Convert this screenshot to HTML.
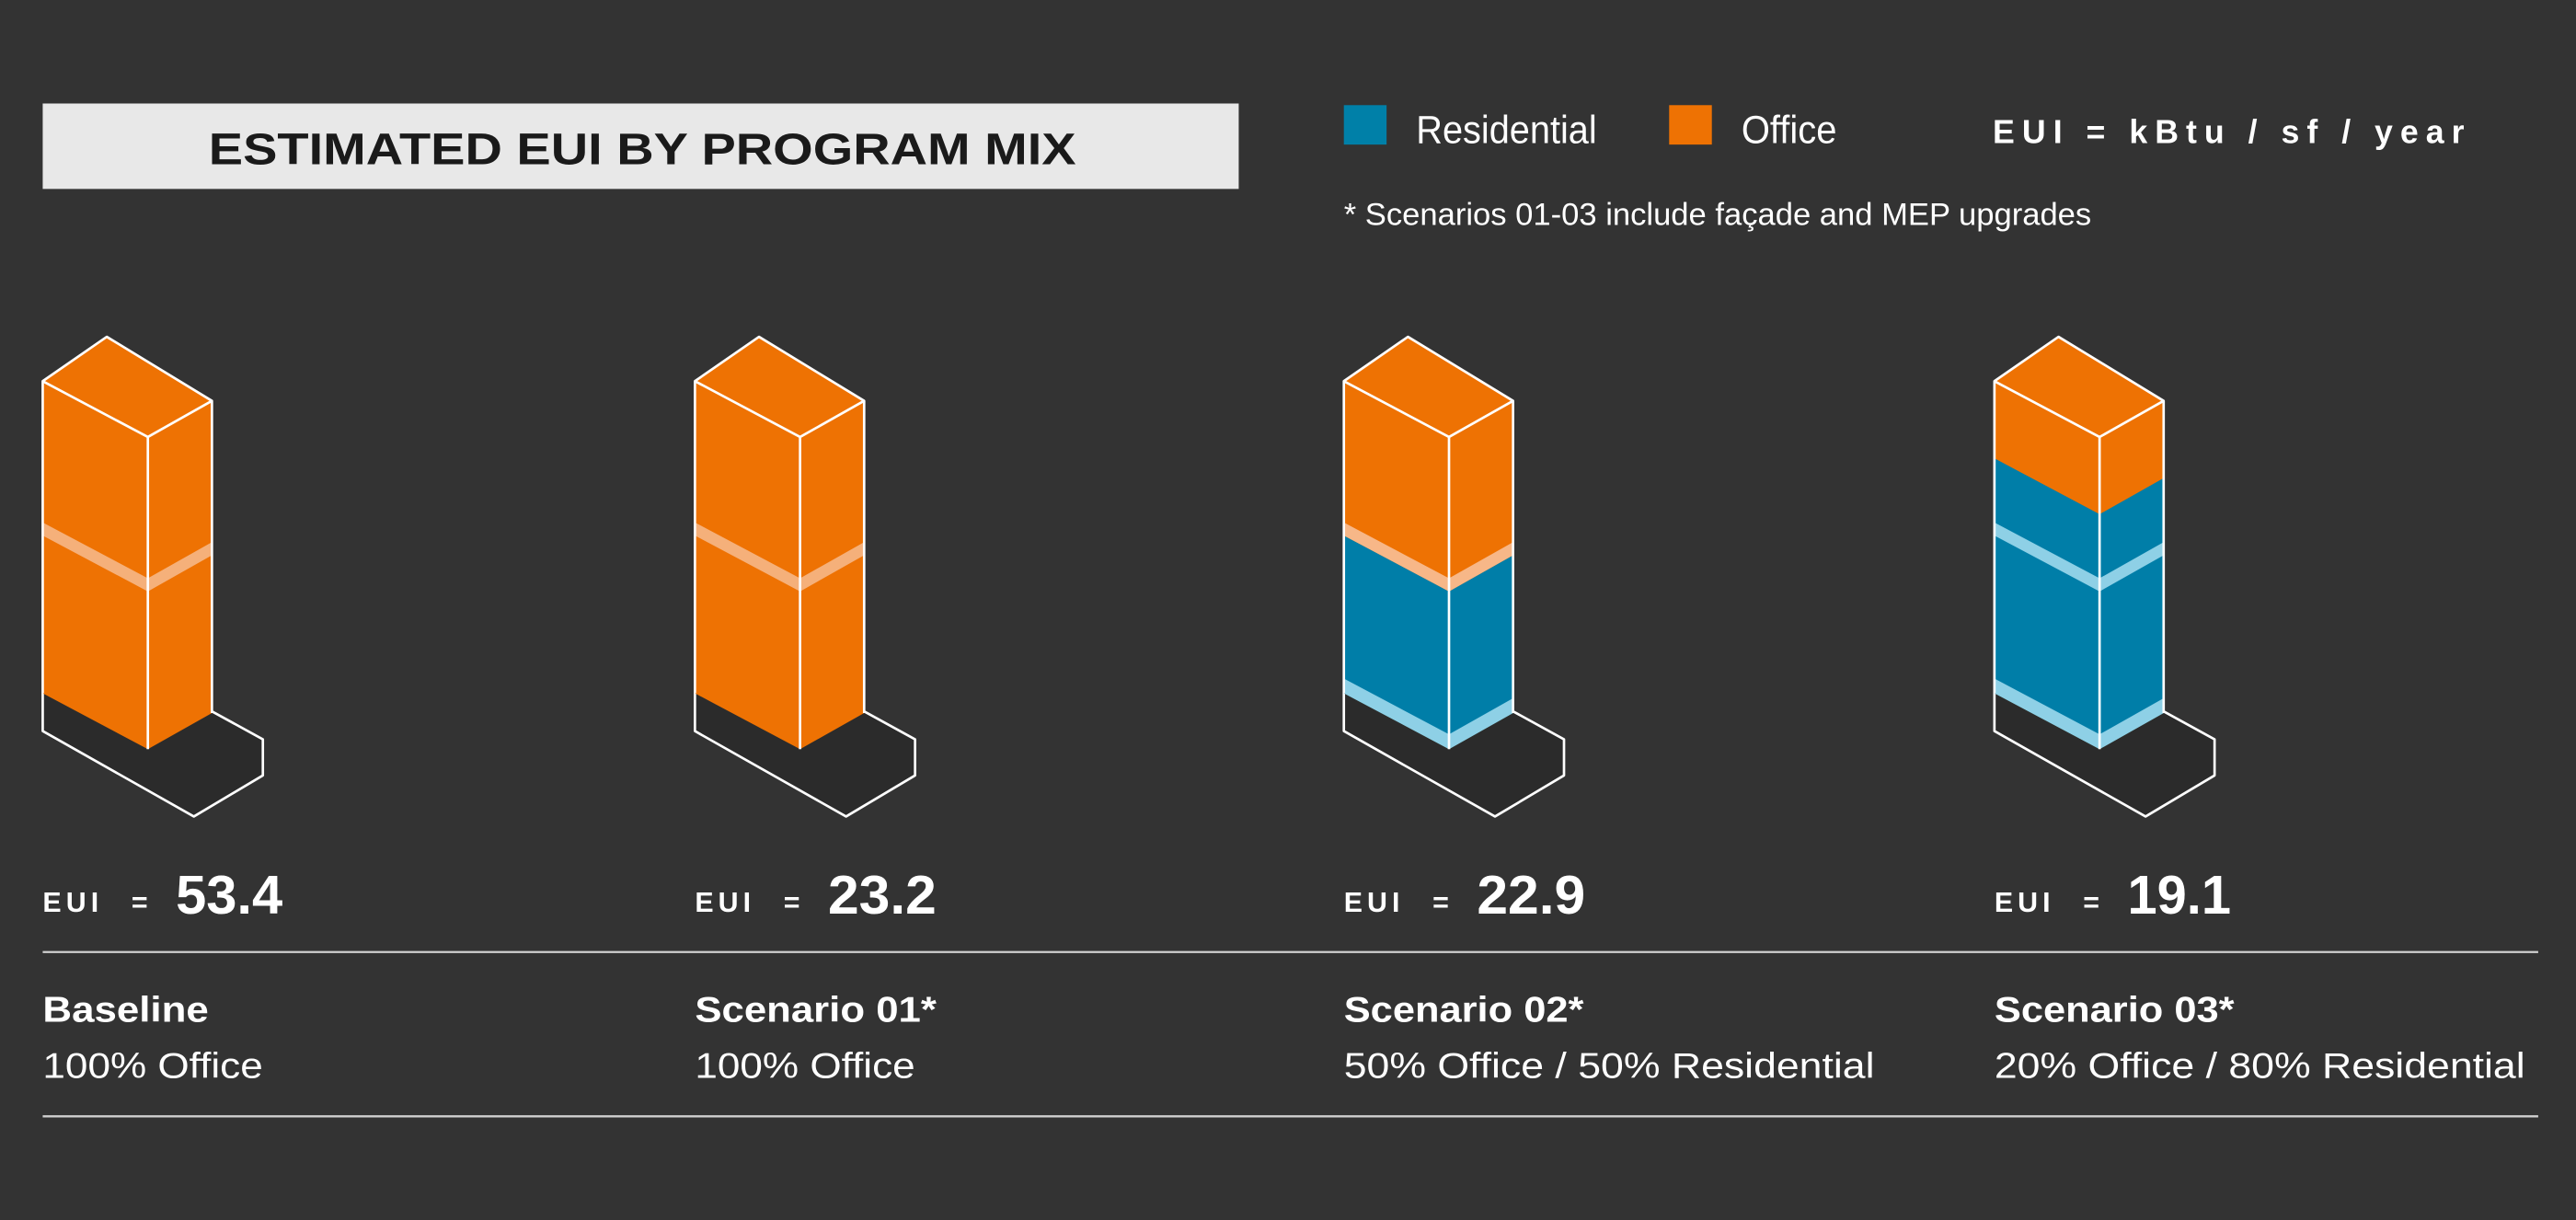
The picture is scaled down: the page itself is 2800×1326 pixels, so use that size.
<!DOCTYPE html>
<html><head><meta charset="utf-8"><style>
html,body{margin:0;padding:0;background:#333333;}
svg{display:block;}
text{font-family:"Liberation Sans",sans-serif;}
</style></head><body>
<svg width="2800" height="1326" viewBox="0 0 1568 742.6" preserveAspectRatio="none" xmlns="http://www.w3.org/2000/svg">
<rect x="0" y="0" width="1568" height="742.6" fill="#333333"/>
<!-- title -->
<rect x="26" y="63" width="728" height="52" fill="#e8e8e8"/>
<text x="127" y="100" font-size="27" font-weight="bold" fill="#1a1a1a" textLength="528" lengthAdjust="spacingAndGlyphs">ESTIMATED EUI BY PROGRAM MIX</text>
<!-- legend -->
<rect x="818" y="64" width="26" height="24" fill="#0080a8"/>
<text x="862" y="87" font-size="24" fill="#fff" textLength="110" lengthAdjust="spacingAndGlyphs">Residential</text>
<rect x="1016" y="64" width="26" height="24" fill="#ee7203"/>
<text x="1060" y="87" font-size="24" fill="#fff" textLength="58" lengthAdjust="spacingAndGlyphs">Office</text>
<text x="1213" y="87" font-size="20" font-weight="bold" fill="#fff" textLength="287" lengthAdjust="spacing">EUI = kBtu / sf / year</text>
<text x="818" y="137" font-size="19" fill="#fff" textLength="455" lengthAdjust="spacingAndGlyphs">* Scenarios 01-03 include façade and MEP upgrades</text>

<defs>
<g id="foot">
<polygon points="26,422 90,456 129,434 160,450 160,472 118,497 26,445" fill="#2b2b2b"/>
<polyline points="26,422 26,445 118,497 160,472 160,450 129,433" fill="none" stroke="#fff" stroke-width="1.5" stroke-linejoin="round"/>
</g>
<g id="edges">
<polygon points="65,205 129,244 129,434 90,456 26,422 26,232" fill="none" stroke="none"/>
<polyline points="26,422 26,232 65,205 129,244 129,434" fill="none" stroke="#fff" stroke-width="1.5" stroke-linejoin="round"/>
<polyline points="26,232 90,266 129,244" fill="none" stroke="#fff" stroke-width="1.5" stroke-linejoin="round"/>
<line x1="90" y1="266" x2="90" y2="456" stroke="#fff" stroke-width="1.5"/>
</g>
</defs>

<!-- Building 1 -->
<g transform="translate(0,0)">
<use href="#foot"/>
<polygon points="65,205 129,244 129,434 90,456 26,422 26,232" fill="#ee7203"/>
<polygon points="26,318 90,352 129,330 129,338 90,360 26,326" fill="#f5b07a"/>
<use href="#edges"/>
</g>
<!-- Building 2 -->
<g transform="translate(397,0)">
<use href="#foot"/>
<polygon points="65,205 129,244 129,434 90,456 26,422 26,232" fill="#ee7203"/>
<polygon points="26,318 90,352 129,330 129,338 90,360 26,326" fill="#f5b07a"/>
<use href="#edges"/>
</g>
<!-- Building 3 -->
<g transform="translate(792,0)">
<use href="#foot"/>
<polygon points="65,205 129,244 129,434 90,456 26,422 26,232" fill="#ee7203"/>
<polygon points="26,326 90,360 129,338 129,434 90,456 26,422" fill="#007ea8"/>
<polygon points="26,318 90,352 129,330 129,338 90,360 26,326" fill="#f7b788"/>
<polygon points="26,413 90,447 129,425 129,434 90,456 26,422" fill="#8ed0e6"/>
<use href="#edges"/>
</g>
<!-- Building 4 -->
<g transform="translate(1188,0)">
<use href="#foot"/>
<polygon points="65,205 129,244 129,434 90,456 26,422 26,232" fill="#ee7203"/>
<polygon points="26,279 90,313 129,291 129,434 90,456 26,422" fill="#007ea8"/>
<polygon points="26,318 90,352 129,330 129,338 90,360 26,326" fill="#8ed0e6"/>
<polygon points="26,413 90,447 129,425 129,434 90,456 26,422" fill="#8ed0e6"/>
<use href="#edges"/>
</g>

<!-- EUI values -->
<g fill="#fff" font-weight="bold">
<text x="26" y="555" font-size="17" textLength="34" lengthAdjust="spacing">EUI</text>
<text x="80" y="555" font-size="17">=</text>
<text x="107" y="556" font-size="33" textLength="65" lengthAdjust="spacingAndGlyphs">53.4</text>
<text x="423" y="555" font-size="17" textLength="34" lengthAdjust="spacing">EUI</text>
<text x="477" y="555" font-size="17">=</text>
<text x="504" y="556" font-size="33" textLength="66" lengthAdjust="spacingAndGlyphs">23.2</text>
<text x="818" y="555" font-size="17" textLength="34" lengthAdjust="spacing">EUI</text>
<text x="872" y="555" font-size="17">=</text>
<text x="899" y="556" font-size="33" textLength="66" lengthAdjust="spacingAndGlyphs">22.9</text>
<text x="1214" y="555" font-size="17" textLength="34" lengthAdjust="spacing">EUI</text>
<text x="1268" y="555" font-size="17">=</text>
<text x="1295" y="556" font-size="33" textLength="63" lengthAdjust="spacingAndGlyphs">19.1</text>
</g>
<line x1="26" y1="579.5" x2="1545" y2="579.5" stroke="#d0d0d0" stroke-width="1.3"/>
<line x1="26" y1="679.5" x2="1545" y2="679.5" stroke="#d0d0d0" stroke-width="1.3"/>

<g fill="#fff" font-size="22">
<text x="26" y="622" font-weight="bold" textLength="101" lengthAdjust="spacingAndGlyphs">Baseline</text>
<text x="26" y="656" textLength="134" lengthAdjust="spacingAndGlyphs">100% Office</text>
<text x="423" y="622" font-weight="bold" textLength="147" lengthAdjust="spacingAndGlyphs">Scenario 01*</text>
<text x="423" y="656" textLength="134" lengthAdjust="spacingAndGlyphs">100% Office</text>
<text x="818" y="622" font-weight="bold" textLength="146" lengthAdjust="spacingAndGlyphs">Scenario 02*</text>
<text x="818" y="656" textLength="323" lengthAdjust="spacingAndGlyphs">50% Office / 50% Residential</text>
<text x="1214" y="622" font-weight="bold" textLength="146" lengthAdjust="spacingAndGlyphs">Scenario 03*</text>
<text x="1214" y="656" textLength="323" lengthAdjust="spacingAndGlyphs">20% Office / 80% Residential</text>
</g>
</svg>
</body></html>
